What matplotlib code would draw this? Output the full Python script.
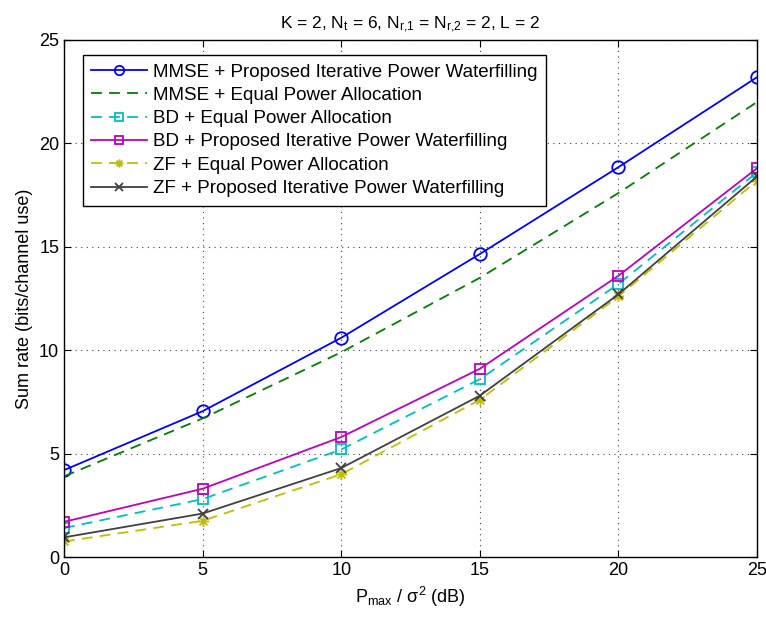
import matplotlib
matplotlib.use('Agg')
import matplotlib.pyplot as plt
from matplotlib.path import Path

plt.rcParams['font.family'] = ['Liberation Sans', 'DejaVu Sans']
plt.rcParams['mathtext.fontset'] = 'custom'
plt.rcParams['mathtext.rm'] = 'Liberation Sans'
plt.rcParams['mathtext.it'] = 'Liberation Sans'

# SNR points (dB)
snr = [0, 5, 10, 15, 20, 25]

# sum rates (bits/channel use)
mmse_prop = [4.2, 7.05, 10.6, 14.65, 18.85, 23.2]
mmse_equal = [3.9, 6.7, 9.9, 13.5, 17.6, 22.0]
bd_equal = [1.4, 2.8, 5.2, 8.6, 13.2, 18.6]
bd_prop = [1.7, 3.3, 5.8, 9.1, 13.6, 18.8]
zf_equal = [0.75, 1.75, 4.0, 7.6, 12.6, 18.2]
zf_prop = [0.95, 2.1, 4.3, 7.8, 12.7, 18.4]

labels = ['MMSE + Proposed Iterative Power Waterfilling',
          'MMSE + Equal Power Allocation',
          'BD + Equal Power Allocation',
          'BD + Proposed Iterative Power Waterfilling',
          'ZF + Equal Power Allocation',
          'ZF + Proposed Iterative Power Waterfilling']

# matlab-like asterisk marker (plus + cross)
d = 0.7071
star = Path([(-1, 0), (1, 0), (0, -1), (0, 1), (-d, -d), (d, d), (-d, d), (d, -d)],
            [Path.MOVETO, Path.LINETO] * 4)

fig = plt.figure(figsize=(7.66, 6.21), dpi=100)
ax = fig.add_axes([64/766, 1 - 557/621, (757-64)/766, (557-40)/621])

lw = 1.3
ax.plot(snr, mmse_prop, '-o', color='#0000ff', lw=lw, ms=9, mfc='none', mew=1.3, label=labels[0])
ax.plot(snr, mmse_equal, '--', color='#008000', lw=lw, dashes=(6, 4), label=labels[1])
ax.plot(snr, bd_equal, '--s', color='#00bfbf', lw=lw, dashes=(6, 4), ms=7.5, mfc='none', mew=1.3, label=labels[2])
ax.plot(snr, bd_prop, '-s', color='#bf00bf', lw=lw, ms=7.5, mfc='none', mew=1.3, label=labels[3])
ax.plot(snr, zf_equal, '--', marker=star, color='#bfbf00', lw=lw, dashes=(6, 4), ms=8, mew=1.3, label=labels[4])
ax.plot(snr, zf_prop, '-x', color='#404040', lw=lw, ms=7, mew=1.3, label=labels[5])

ax.set_xlim(0, 25)
ax.set_ylim(0, 25)
ax.set_xticks(snr)
ax.set_yticks([0, 5, 10, 15, 20, 25])
ax.tick_params(direction='in', top=True, right=True, labelsize=13, length=5)
ax.grid(True, linestyle=(0, (1, 4)), color='#404040', lw=0.8)
for s in ax.spines.values():
    s.set_linewidth(1.0)

ax.set_xlabel(r'P$_{\mathrm{max}}$ / $\sigma^2$ (dB)', fontsize=13)
ax.set_ylabel('Sum rate (bits/channel use)', fontsize=13)
ax.set_title(r'K = 2, N$_{\mathrm{t}}$ = 6, N$_{\mathrm{r{,}1}}$ = N$_{\mathrm{r{,}2}}$ = 2, L = 2', fontsize=12.5, pad=8)

leg = ax.legend(loc='upper left', fontsize=13.5, fancybox=False, edgecolor='black',
                framealpha=1, handlelength=3.0, handletextpad=0.3, borderpad=0.45,
                labelspacing=0.33, borderaxespad=0, markerscale=0.75,
                bbox_to_anchor=(0.027, 0.971))
leg.get_frame().set_linewidth(1.0)

fig.savefig('out.png', dpi=100)
